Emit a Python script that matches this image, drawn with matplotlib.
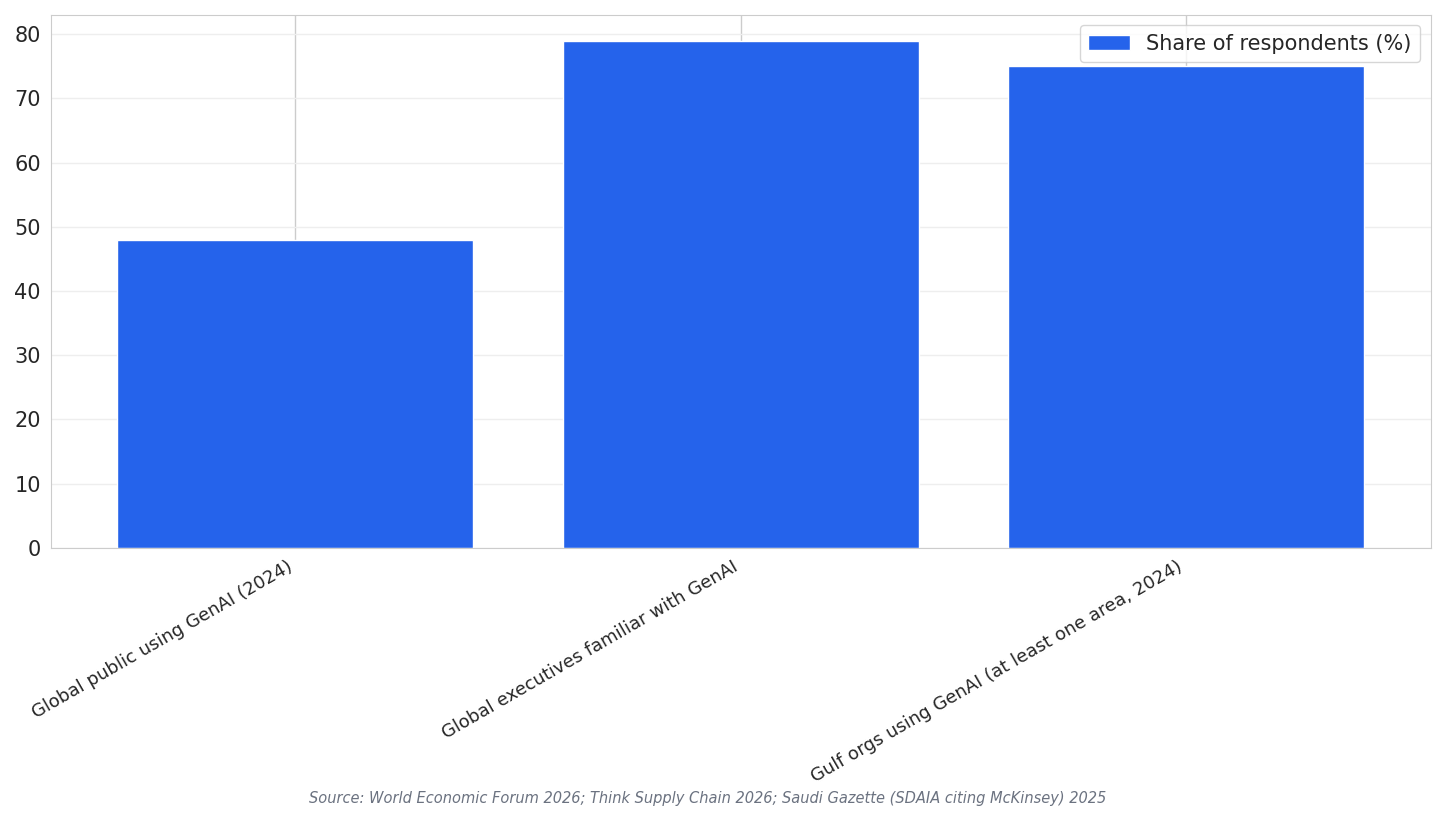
import matplotlib
matplotlib.use("Agg")
import matplotlib.pyplot as plt
import seaborn as sns

sns.set_style("whitegrid")

categories = [
    "Global public using GenAI (2024)",
    "Global executives familiar with GenAI",
    "Gulf orgs using GenAI (at least one area, 2024)",
]
shares = [48, 79, 75]

fig, ax = plt.subplots(figsize=(14.45, 8.24), dpi=100)
ax.bar(categories, shares, color="#2563eb", width=0.8, label="Share of respondents (%)", zorder=2)
ax.grid(axis="y", color="#eeeeee", lw=1)
ax.grid(axis="x", color="#cccccc", lw=1)
ax.set_ylim(0, 83)
ax.set_xlim(-0.55, 2.55)
ax.tick_params(axis="y", labelsize=15)
ax.tick_params(axis="x", labelsize=13)
plt.setp(ax.get_xticklabels(), rotation=30, ha="right")
for s in ax.spines.values():
    s.set_color("#cccccc")
ax.legend(loc="upper right", fontsize=15)
fig.text(0.49, 0.025, "Source: World Economic Forum 2026; Think Supply Chain 2026; Saudi Gazette (SDAIA citing McKinsey) 2025",
         ha="center", fontsize=10.5, style="italic", color="#6b7280")
fig.subplots_adjust(left=0.035, right=0.99, top=0.982, bottom=0.335)
fig.savefig("out.png")
